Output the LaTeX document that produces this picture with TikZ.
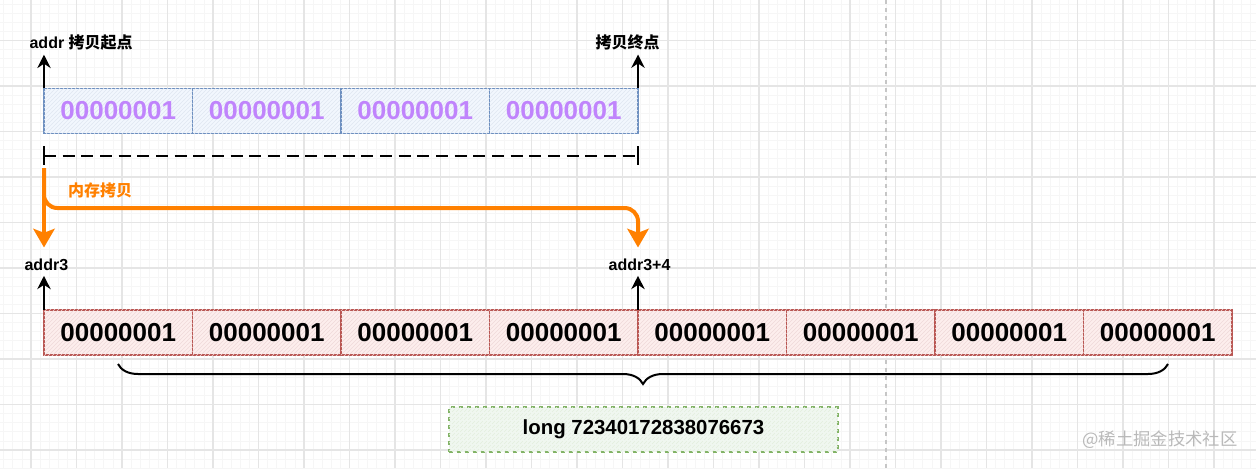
\documentclass[tikz,border=0pt]{standalone}
\usepackage{fontspec}
\setmainfont{Liberation Sans}
\newfontfamily\cjk{Noto Sans CJK SC}
\usetikzlibrary{arrows.meta,patterns,decorations.pathreplacing,positioning}
\definecolor{blueline}{RGB}{108,142,191}
\definecolor{bluefill}{RGB}{218,232,252}
\definecolor{redline}{RGB}{184,84,80}
\definecolor{redfill}{RGB}{248,206,204}
\definecolor{greenline}{RGB}{130,179,102}
\definecolor{greenfill}{RGB}{213,232,212}
\definecolor{copyorange}{RGB}{255,128,0}
\definecolor{bytepurple}{RGB}{192,132,252}
\tikzset{
  byte/.style={draw, line width=1.1pt, minimum width=111.4pt, minimum height=34pt,
    inner sep=0pt, outer sep=0pt, font=\fontsize{19.5}{22}\selectfont\bfseries},
  srcbyte/.style={byte, draw=blueline, fill=bluefill!35, text=bytepurple,
    postaction={pattern=north east lines, pattern color=blueline!22}},
  dstbyte/.style={byte, draw=redline, fill=redfill!35, text=black,
    postaction={pattern=north east lines, pattern color=redline!22}},
  longbox/.style={draw=greenline, dashed, line width=1.5pt, fill=greenfill!35,
    postaction={pattern=north east lines, pattern color=greenline!22},
    minimum width=291.5pt, minimum height=33.5pt,
    font=\fontsize{15.3}{18}\selectfont\bfseries},
  lbl/.style={inner sep=1pt, font=\fontsize{12}{14}\selectfont\bfseries},
  ptr/.style={-{Stealth[length=10pt,width=10pt]}, line width=1.5pt},
  copyflow/.style={-{Stealth[length=14pt,width=16pt,inset=3pt]}, line width=3pt, copyorange},
  wmark/.style={text=gray!55, font=\fontsize{13}{15}\selectfont\cjk}
}
\begin{document}
\begin{tikzpicture}[x=0.75pt,y=-0.75pt]
\useasboundingbox (0,0) rectangle (1256,468);
% grid
\foreach \k in {0,...,138} {
  \draw[gray!7, line width=0.5pt] ({31+9.1*(\k-4)},0) -- ++(0,468);
}
\foreach \k in {0,...,52} {
  \draw[gray!7, line width=0.5pt] (0,{-5+9.1*\k}) -- ++(1256,0);
}
\foreach \k in {0,...,28} {
  \draw[gray!20, line width=0.8pt] ({31+45.5*(\k-1)},0) -- ++(0,468);
}
\foreach \k in {0,...,11} {
  \draw[gray!20, line width=0.8pt] (0,{-5+45.5*\k}) -- ++(1256,0);
}
\draw[gray!45, dashed, line width=1pt] (886,0) -- (886,468);

% source bytes
\foreach \i in {0,...,3}
  \node[srcbyte] (s\i) at ({118.25+148.5*\i},111) {00000001};
% target bytes
\foreach \i in {0,...,7}
  \node[dstbyte] (d\i) at ({118.25+148.5*\i},332.5) {00000001};

% labels
\node[lbl, anchor=base west] (startlbl) at (28,48) {addr {\cjk 拷贝起点}};
\node[lbl, anchor=base west] (stoplbl) at (594,48) {\cjk 拷贝终点};
\node[lbl, anchor=base west] (dstlbl) at (23,270) {addr3};
\node[lbl, anchor=base west] (endlbl) at (607,270) {addr3+4};

\draw[ptr, shorten >=2.5pt] (s0.north west) -- (s0.north west |- startlbl.south);
\draw[ptr, shorten >=2.5pt] (s3.north east) -- (s3.north east |- stoplbl.south);
\draw[ptr, shorten >=3pt] (d0.north west) -- (d0.north west |- dstlbl.south);
\draw[ptr, shorten >=3pt] (d4.north west) -- (d4.north west |- endlbl.south);

% copied span
\coordinate (spanL) at (44,156);
\coordinate (spanR) at (638,156);
\draw[dashed, dash pattern=on 9pt off 5pt, line width=2pt] (spanL) -- (spanR);
\draw[line width=2pt] (44,146) -- (44,165);
\draw[line width=2pt] (638,146) -- (638,165);

% memcpy
\coordinate (copyL) at (44,168);
\coordinate (copyR) at (638,208);
\draw[copyflow, shorten >=7pt] (copyL) -- (copyL |- dstlbl.north);
\draw[copyflow, shorten >=7pt, rounded corners=10pt] (copyL) |- (copyR) -- (copyR |- endlbl.north);
\node[lbl, text=copyorange, font=\fontsize{12}{14}\selectfont\cjk\bfseries] (copylbl) at (100,190) {内存拷贝};

% brace over the 8 bytes
\draw[decorate, decoration={brace, mirror, amplitude=15pt}, line width=1.5pt] (118,364) -- (1168,364);
\node[longbox] (val) at (643.5,429.5) {long 72340172838076673};

\node[wmark] (wm) at (1160,440) {@稀土掘金技术社区};
\end{tikzpicture}
\end{document}
